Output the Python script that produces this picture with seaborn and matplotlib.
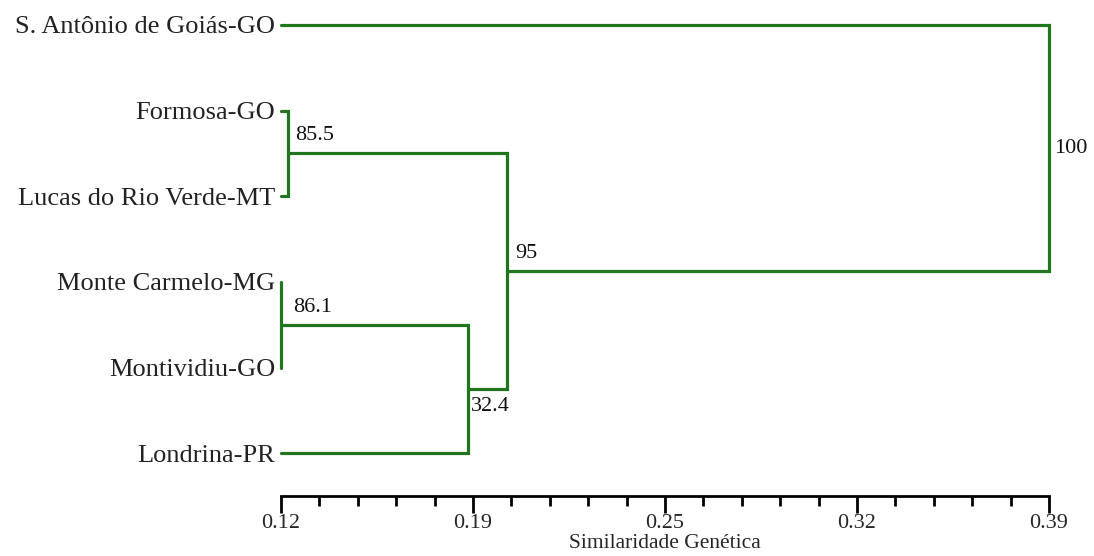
import matplotlib
matplotlib.use('Agg')
import matplotlib.pyplot as plt
import seaborn as sns
import pandas as pd

# leaves from top to bottom
leaves = ['S. Antônio de Goiás-GO', 'Formosa-GO', 'Lucas do Rio Verde-MT',
          'Monte Carmelo-MG', 'Montividiu-GO', 'Londrina-PR']
leaf_height = 0.12

# merges: (left child, right child, height, bootstrap label)
# children are leaf indices (0-5) or earlier merge ids (6, 7, ...)
merge_left = [1, 3, 7, 6, 0]
merge_right = [2, 4, 5, 8, 9]
merge_height = [0.1225, 0.12, 0.1856, 0.1995, 0.39]
merge_support = ['85.5', '86.1', '32.4', '95', '100']

tick_values = [0.12, 0.1875, 0.255, 0.3225, 0.39]
tick_labels = ['0.12', '0.19', '0.25', '0.32', '0.39']

green = '#1f761f'

# build node coordinates
node_x = [leaf_height] * len(leaves)
node_y = list(range(len(leaves)))
rows = []
seg = 0
for l, r, h in zip(merge_left, merge_right, merge_height):
    yl, yr = node_y[l], node_y[r]
    # left child horizontal, vertical, right child horizontal
    rows += [(seg, node_x[l], yl), (seg, h, yl), (seg, h, yr), (seg, node_x[r], yr)]
    seg += 1
    node_x.append(h)
    node_y.append((yl + yr) / 2)
segments = pd.DataFrame(rows, columns=['seg', 'x', 'y'])

sns.set_style('white')
plt.rcParams['font.family'] = ['Liberation Serif', 'DejaVu Serif']

fig = plt.figure(figsize=(10.94, 5.56), dpi=100)
ax = fig.add_axes([281 / 1094, 60 / 556, 768 / 1094, 486 / 556])

sns.lineplot(data=segments, x='x', y='y', units='seg', estimator=None,
             sort=False, color=green, linewidth=2.3, ax=ax)
for line in ax.lines:
    line.set_clip_on(False)
    line.set_solid_joinstyle('miter')

# bootstrap labels
offsets = [(7, 8), (12, 8), (3, -8), (8, 8), (5, 0)]
aligns = [('left', 'bottom'), ('left', 'bottom'), ('left', 'top'),
          ('left', 'bottom'), ('left', 'center')]
for i, txt in enumerate(merge_support):
    nid = len(leaves) + i
    ax.annotate(txt, (node_x[nid], node_y[nid]), xytext=offsets[i],
                textcoords='offset pixels', ha=aligns[i][0], va=aligns[i][1],
                fontsize=16, color='#111111')

ax.set_xlim(0.12, 0.39)
ax.set_ylim(5.50, -0.175)
ax.set_yticks(range(len(leaves)), leaves)
ax.tick_params(axis='y', length=0, pad=4, labelsize=19, labelcolor='#222222')
ax.set_ylabel('')

ax.set_xticks(tick_values, tick_labels)
ax.set_xticks([0.12 + k * 0.0135 for k in range(21) if k % 5], minor=True)
ax.tick_params(axis='x', which='major', bottom=True, length=12, width=2,
               color='black', pad=1, labelsize=16)
ax.tick_params(axis='x', which='minor', bottom=True, length=7, width=2, color='black')
ax.set_xlabel('Similaridade Genética', fontsize=15.5)
ax.xaxis.set_label_coords(0.5, -0.079)

for s in ['top', 'right', 'left']:
    ax.spines[s].set_visible(False)
ax.spines['bottom'].set_linewidth(2)
ax.spines['bottom'].set_color('black')

fig.savefig('out.png', dpi=100)
